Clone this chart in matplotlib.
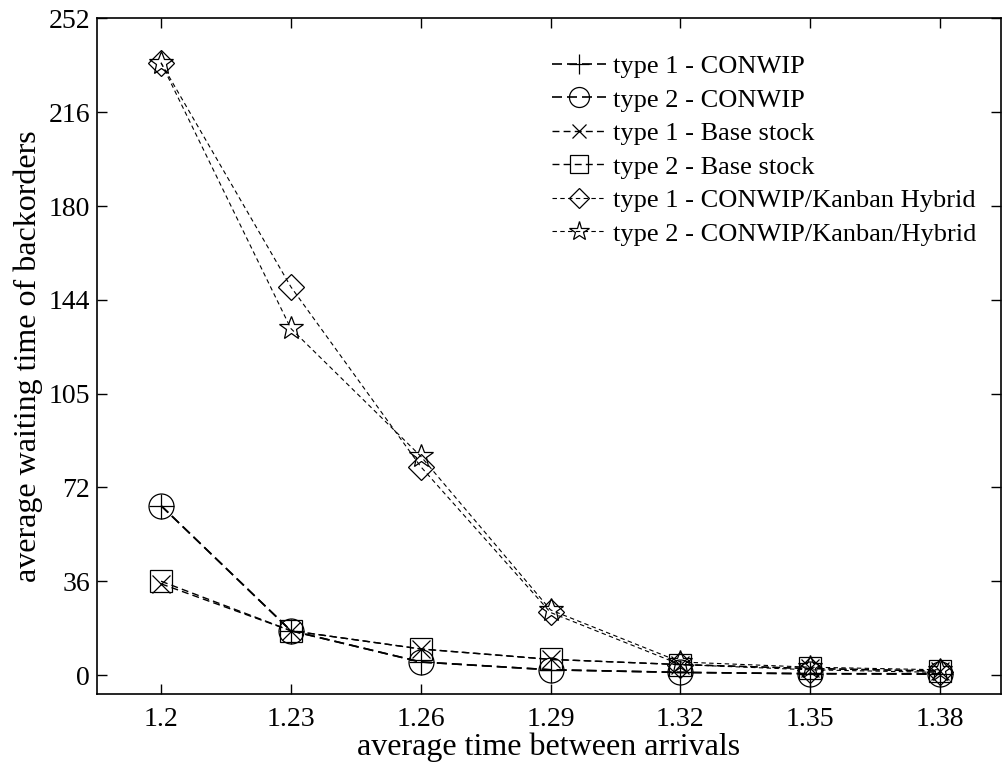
import numpy as np
import matplotlib
matplotlib.use("Agg")
import matplotlib.pyplot as plt

plt.rcParams['font.family'] = ['Liberation Serif', 'DejaVu Serif']

# datos
tiempos = [1.2, 1.23, 1.26, 1.29, 1.32, 1.35, 1.38]
t1_conwip = [65, 17, 5, 2, 1, 0.5, 0.5]
t2_conwip = [65, 17, 5, 2, 1, 0.5, 0.3]
t1_base = [35, 17, 10, 6, 4, 2.5, 1.5]
t2_base = [36, 17, 10, 6, 4, 2.5, 1.5]
t1_hibrido = [235, 149, 80, 24, 4, 2, 1]
t2_hibrido = [235, 133, 84, 25, 5, 3, 2]

etiquetas = ["type 1 - CONWIP", "type 2 - CONWIP", "type 1 - Base stock",
             "type 2 - Base stock", "type 1 - CONWIP/Kanban Hybrid",
             "type 2 - CONWIP/Kanban/Hybrid"]
yticks = [0, 36, 72, 108, 144, 180, 216, 252]
ytick_labels = ["0", "36", "72", "105", "144", "180", "216", "252"]

series = [t1_conwip, t2_conwip, t1_base, t2_base, t1_hibrido, t2_hibrido]
marcadores = ["+", "o", "x", "s", "D", "*"]
tamanos = [18, 18, 13, 16, 13, 18]
dashes = [(6, 3), (6, 3), (5, 3), (5, 3), (4, 3), (4, 3)]
grosores = [1.2, 1.2, 1.0, 1.0, 0.8, 0.8]

fig = plt.figure(figsize=(10.03, 7.63), dpi=100)
ax = fig.add_axes([0.0967, 0.0904, 0.9013, 0.8854])

for ys, m, ms, d, lw, lab in zip(series, marcadores, tamanos, dashes, grosores, etiquetas):
    ax.plot(tiempos, ys, color="black", linestyle="--", dashes=d, linewidth=lw,
            marker=m, markersize=ms, markerfacecolor="none",
            markeredgecolor="black", markeredgewidth=0.9, label=lab)

ax.set_xlim(1.1852, 1.3941)
ax.set_ylim(-7.3, 252)
ax.set_xticks(tiempos)
ax.set_xticklabels([str(t) for t in tiempos])
ax.set_yticks(yticks)
ax.set_yticklabels(ytick_labels)
ax.tick_params(direction="in", length=7, width=1, labelsize=20,
               top=True, right=True, pad=5)
ax.tick_params(axis="x", pad=9)
for s in ax.spines.values():
    s.set_linewidth(1.2)

ax.set_xlabel("average time between arrivals", fontsize=23, labelpad=1)
ax.set_ylabel("average waiting time of backorders", fontsize=23, labelpad=4)

leg = ax.legend(loc="upper left", bbox_to_anchor=(0.492, 0.962), frameon=False,
                fontsize=19, handlelength=2.05, handletextpad=0.25,
                labelspacing=0.38, markerscale=0.8, borderaxespad=0)

fig.savefig("out.png", dpi=100)
